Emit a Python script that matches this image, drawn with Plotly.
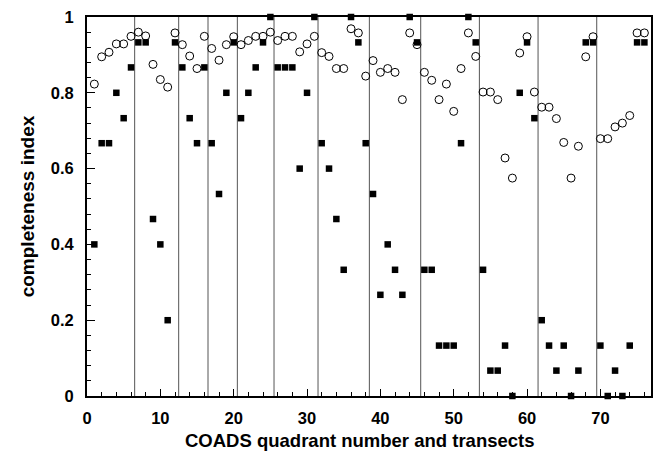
import plotly.graph_objects as go

# COADS quadrant / transect index
quadrant = list(range(1, 77))

# open circles
circle_vals = [0.823, 0.895, 0.907, 0.929, 0.929, 0.949, 0.960, 0.950, 0.875, 0.835,
               0.815, 0.958, 0.927, 0.897, 0.864, 0.949, 0.917, 0.886, 0.927, 0.948,
               0.927, 0.938, 0.949, 0.949, 0.960, 0.938, 0.949, 0.949, 0.908, 0.929,
               0.949, 0.906, 0.896, 0.864, 0.864, 0.969, 0.958, 0.844, 0.885, 0.854,
               0.864, 0.854, 0.782, 0.958, 0.927, 0.854, 0.833, 0.782, 0.823, 0.751,
               0.864, 0.958, 0.896, 0.802, 0.802, 0.782, 0.628, 0.575, 0.905, 0.948,
               0.802, 0.762, 0.762, 0.732, 0.669, 0.575, 0.659, 0.895, 0.948, 0.679,
               0.679, 0.710, 0.720, 0.740, 0.958, 0.958]

# filled squares
square_vals = [0.400, 0.667, 0.667, 0.800, 0.733, 0.867, 0.933, 0.933, 0.467, 0.400,
               0.200, 0.933, 0.867, 0.733, 0.667, 0.867, 0.667, 0.533, 0.800, 0.933,
               0.733, 0.800, 0.867, 0.933, 1.000, 0.867, 0.867, 0.867, 0.600, 0.800,
               1.000, 0.667, 0.600, 0.467, 0.333, 1.000, 0.933, 0.667, 0.533, 0.267,
               0.400, 0.333, 0.267, 1.000, 0.933, 0.333, 0.333, 0.133, 0.133, 0.133,
               0.667, 1.000, 0.933, 0.333, 0.067, 0.067, 0.133, 0.000, 0.800, 0.933,
               0.733, 0.200, 0.133, 0.067, 0.133, 0.000, 0.067, 0.933, 0.933, 0.133,
               0.000, 0.067, 0.000, 0.133, 0.933, 0.933]

# transect boundaries (vertical separators)
transect_boundaries = [6.5, 12.5, 16.5, 20.5, 25.5, 31.5, 38.5, 45.5, 53.5, 61.5, 69.5]

x_ticks = [0, 10, 20, 30, 40, 50, 60, 70]
y_ticks = [0, 0.2, 0.4, 0.6, 0.8, 1]
y_ticklabels = ["0", "0.2", "0.4", "0.6", "0.8", "1"]

FONT = "Liberation Sans, Arial, Helvetica, sans-serif"

fig = go.Figure()

for xb in transect_boundaries:
    fig.add_shape(type="line", xref="x", yref="paper", x0=xb, x1=xb, y0=0, y1=1,
                  line=dict(color="#555555", width=1), layer="below")

fig.add_trace(go.Scatter(
    x=quadrant, y=circle_vals, mode="markers",
    marker=dict(symbol="circle-open", size=8, color="black", line=dict(width=1, color="black")),
    cliponaxis=False, showlegend=False))

fig.add_trace(go.Scatter(
    x=quadrant, y=square_vals, mode="markers",
    marker=dict(symbol="square", size=6.5, color="black", line=dict(width=0)),
    cliponaxis=False, showlegend=False))

fig.update_layout(
    width=653, height=454,
    margin=dict(l=87, r=0, t=17, b=58),
    paper_bgcolor="white", plot_bgcolor="white",
    font=dict(family=FONT, color="black"),
    annotations=[dict(text="COADS quadrant number and transects", xref="paper", yref="paper",
                      x=0.484, y=-0.118, xanchor="center", yanchor="middle", showarrow=False,
                      font=dict(size=18.5, family=FONT, weight="bold", color="black"))],
)

fig.update_xaxes(
    range=[0, 76.9], tickmode="array", tickvals=x_ticks,
    showgrid=False, zeroline=False,
    showline=True, linecolor="black", linewidth=2, mirror=True,
    ticks="inside", ticklen=7, tickwidth=1, tickcolor="black",
    minor=dict(dtick=2, ticks="inside", ticklen=4, tickwidth=1, tickcolor="black"),
    tickfont=dict(size=16.5, family=FONT, weight="bold"),
    ticklabelstandoff=6,
)

fig.update_yaxes(
    range=[0, 1], tickmode="array", tickvals=y_ticks, ticktext=y_ticklabels,
    showgrid=False, zeroline=False,
    showline=True, linecolor="black", linewidth=2, mirror=True,
    ticks="inside", ticklen=8, tickwidth=1, tickcolor="black",
    minor=dict(dtick=0.04, ticks="inside", ticklen=4, tickwidth=1, tickcolor="black"),
    tickfont=dict(size=16.5, family=FONT, weight="bold"),
    ticklabelstandoff=8,
    title=dict(text="completeness index",
               font=dict(size=19, family=FONT, weight="bold"), standoff=11),
)

fig.write_html("out.html")
